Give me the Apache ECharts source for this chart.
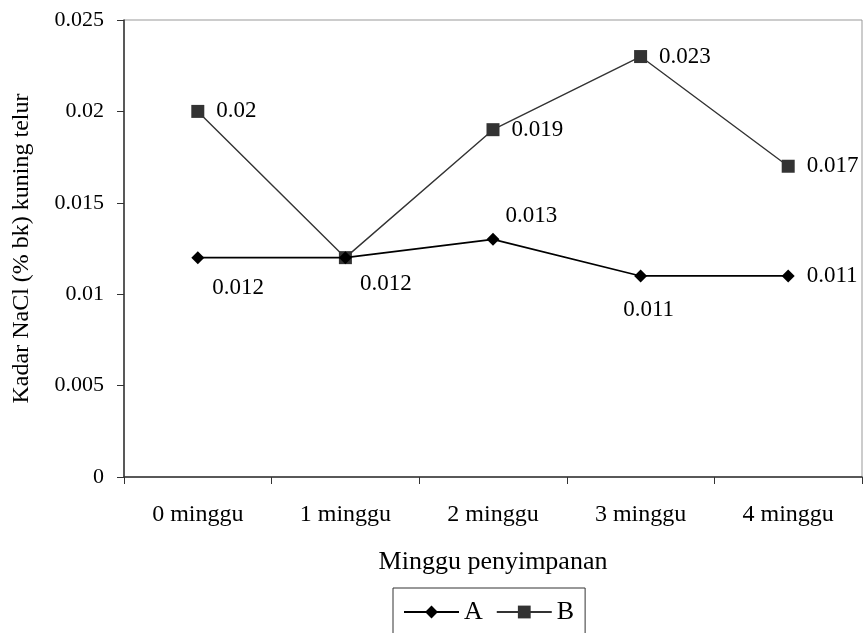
<!DOCTYPE html>
<html>
<head>
<meta charset="utf-8">
<script src="https://cdn.jsdelivr.net/npm/echarts@6/dist/echarts.min.js"></script>
<style>html,body{margin:0;padding:0;background:#fff}#c{width:864px;height:633px}</style>
</head>
<body>
<div id="c"></div>
<script>
const categories = ['0 minggu', '1 minggu', '2 minggu', '3 minggu', '4 minggu'];
const seriesA = [0.012, 0.012, 0.013, 0.011, 0.011];
const seriesB = [0.020, 0.012, 0.019, 0.023, 0.017];
const yTicks = [0, 0.005, 0.01, 0.015, 0.02, 0.025];

const FONT = '"Liberation Serif", "Times New Roman", serif';

// label placement (style) for each point of A
const aLabelStyle = [
  {position: 'right', distance: 8, offset: [0, 30]},
  {position: 'right', distance: 8, offset: [0, 26]},
  {position: 'right', distance: 6, offset: [0, -23]},
  {position: 'inside', offset: [8, 34]},
  {position: 'right', distance: 12, offset: [0, 0]}
];

const dataA = seriesA.map((v, i) => ({value: v, label: Object.assign({show: true}, aLabelStyle[i])}));
const dataB = seriesB.map((v, i) => ({value: v, label: {show: i !== 1}}));

const chart = echarts.init(document.getElementById('c'), null, {renderer: 'canvas'});
chart.setOption({
  animation: false,
  textStyle: {fontFamily: FONT, color: '#000'},
  grid: {left: 124, right: 2, top: 20, bottom: 156, show: true, borderColor: '#999', borderWidth: 1,
         containLabel: false, outerBoundsMode: 'none'},
  xAxis: {
    type: 'category',
    data: categories,
    boundaryGap: true,
    name: 'Minggu penyimpanan',
    nameLocation: 'middle',
    nameGap: 72,
    nameTextStyle: {fontFamily: FONT, fontSize: 26, color: '#000'},
    axisLine: {lineStyle: {color: '#333', width: 1.5}},
    axisTick: {show: true, inside: false, length: 7, lineStyle: {color: '#333', width: 1}},
    axisLabel: {fontFamily: FONT, fontSize: 24, color: '#000', margin: 26},
    splitLine: {show: false}
  },
  yAxis: {
    type: 'value',
    min: 0,
    max: 0.025,
    interval: 0.005,
    name: 'Kadar NaCl (% bk) kuning telur',
    nameLocation: 'middle',
    nameGap: 90,
    nameTextStyle: {fontFamily: FONT, fontSize: 24, color: '#000'},
    axisLine: {show: true, lineStyle: {color: '#333', width: 1.5}},
    axisTick: {show: true, inside: false, length: 7, lineStyle: {color: '#333', width: 1}},
    axisLabel: {fontFamily: FONT, fontSize: 22, color: '#000', margin: 20,
      formatter: v => { const t = yTicks.find(x => Math.abs(x - v) < 1e-9); return t === undefined ? '' : String(+t.toFixed(3)); }},
    splitLine: {show: false}
  },
  legend: {
    left: 393,
    top: 588,
    padding: [11, 11, 30, 10],
    itemWidth: 55,
    itemHeight: 16,
    itemGap: 13,
    borderColor: '#333',
    borderWidth: 1,
    textStyle: {fontFamily: FONT, fontSize: 26, color: '#000'},
    data: ['A', 'B']
  },
  series: [
    {
      name: 'A',
      type: 'line',
      data: dataA,
      symbol: 'diamond',
      symbolSize: 13,
      lineStyle: {color: '#000', width: 1.6},
      itemStyle: {color: '#000'},
      label: {show: true, fontFamily: FONT, fontSize: 23, color: '#000'},
      z: 3
    },
    {
      name: 'B',
      type: 'line',
      data: dataB,
      symbol: 'rect',
      symbolSize: 13,
      lineStyle: {color: '#333', width: 1.4},
      itemStyle: {color: '#333'},
      label: {show: true, position: 'right', distance: 12, fontFamily: FONT, fontSize: 23, color: '#000'},
      z: 2
    }
  ]
});
</script>
</body>
</html>
